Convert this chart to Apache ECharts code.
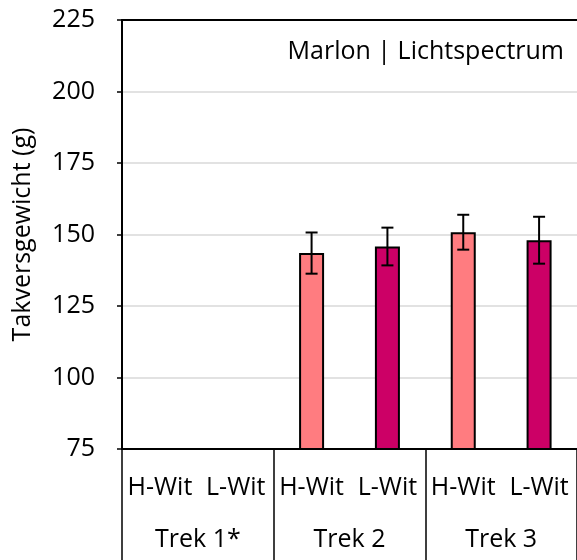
<!DOCTYPE html>
<html>
<head>
<meta charset="utf-8">
<style>
  html, body { margin: 0; padding: 0; background: #fff; }
  #chart { width: 577px; height: 560px; }
</style>
<script src="https://cdn.jsdelivr.net/npm/echarts@6/dist/echarts.min.js"></script>
</head>
<body>
<div id="chart"></div>
<script>
// Treatment labels (inner axis level) and trial groups (outer axis level)
const treatments = ['H-Wit', 'L-Wit', 'H-Wit', 'L-Wit', 'H-Wit', 'L-Wit'];
const trials = ['Trek 1*', 'Trek 2', 'Trek 3'];
// Mean truss weight (g) and its error margin; Trek 1 has no measurements
const meanWeight = [null, null, 143.5, 145.8, 150.8, 148.0];
const errorMargin = [null, null, 7.2, 6.6, 6.1, 8.2];
const yTicks = { min: 75, max: 225, step: 25 };

const barColors = ['#ff7c80', '#cc0066'];
const FONT = '"Open Sans", sans-serif';
const FS = 25;

const chart = echarts.init(document.getElementById('chart'));

const barData = meanWeight.map((v, i) => ({
  value: v,
  itemStyle: { color: barColors[i % 2] }
}));

const errorData = meanWeight.map((v, i) =>
  v == null ? [i, null, null] : [i, v - errorMargin[i], v + errorMargin[i]]
);

chart.setOption({
  animation: false,
  title: {
    text: 'Marlon | Lichtspectrum',
    right: 8,
    top: 34,
    textStyle: { fontFamily: FONT, fontSize: FS, fontWeight: 'normal', color: '#000' }
  },
  grid: { left: 122, top: 20, width: 458, height: 429 },
  xAxis: [
    {
      type: 'category',
      data: treatments,
      position: 'bottom',
      axisLine: { show: true, lineStyle: { color: '#000', width: 2 } },
      axisTick: { show: false },
      axisLabel: { interval: 0, margin: 26, fontFamily: FONT, fontSize: FS, color: '#000' }
    },
    {
      type: 'category',
      data: trials,
      position: 'bottom',
      axisLine: { show: false },
      axisTick: { show: true, interval: 0, length: 112, lineStyle: { color: '#000', width: 1.5 } },
      axisLabel: { interval: 0, margin: 78, fontFamily: FONT, fontSize: FS, color: '#000' }
    },
    {
      type: 'category',
      data: trials,
      position: 'top',
      axisLine: { show: true, lineStyle: { color: '#000', width: 2 } },
      axisTick: { show: false },
      axisLabel: { show: false }
    }
  ],
  yAxis: {
    type: 'value',
    min: yTicks.min,
    max: yTicks.max,
    interval: yTicks.step,
    name: 'Takversgewicht (g)',
    nameLocation: 'middle',
    nameGap: 87,
    nameTextStyle: { fontFamily: FONT, fontSize: FS, color: '#000' },
    axisLine: { show: true, lineStyle: { color: '#000', width: 2 } },
    axisTick: { show: true, length: 5, lineStyle: { color: '#000', width: 1.5 } },
    axisLabel: { margin: 27, fontFamily: FONT, fontSize: FS, color: '#000' },
    splitLine: { show: true, lineStyle: { color: '#d9d9d9', width: 1.5 } }
  },
  series: [
    {
      type: 'bar',
      xAxisIndex: 0,
      data: barData,
      barWidth: 25,
      itemStyle: { borderColor: '#000', borderWidth: 2 }
    },
    {
      type: 'custom',
      xAxisIndex: 0,
      data: errorData,
      z: 10,
      renderItem: function (params, api) {
        const lo = api.value(1);
        const hi = api.value(2);
        if (lo == null || hi == null || isNaN(lo)) return null;
        const x = api.value(0);
        const pLo = api.coord([x, lo]);
        const pHi = api.coord([x, hi]);
        const half = 6;
        const style = { stroke: '#000', lineWidth: 2 };
        return {
          type: 'group',
          children: [
            { type: 'line', shape: { x1: pLo[0], y1: pLo[1], x2: pHi[0], y2: pHi[1] }, style },
            { type: 'line', shape: { x1: pHi[0] - half, y1: pHi[1], x2: pHi[0] + half, y2: pHi[1] }, style },
            { type: 'line', shape: { x1: pLo[0] - half, y1: pLo[1], x2: pLo[0] + half, y2: pLo[1] }, style }
          ]
        };
      }
    }
  ]
});
</script>
</body>
</html>
